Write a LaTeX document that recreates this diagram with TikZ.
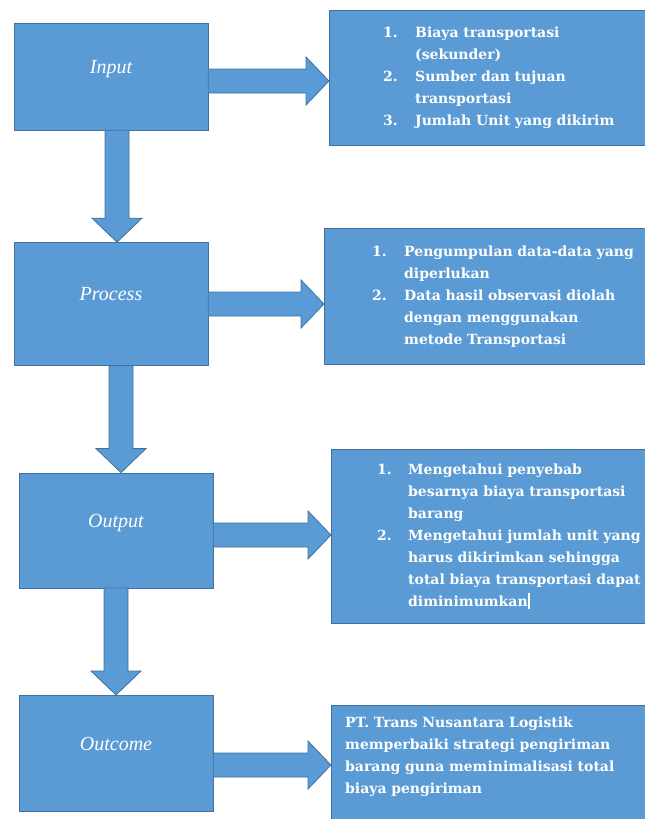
\documentclass[tikz,border=0pt]{standalone}
\usepackage{fontspec}
\setmainfont{Liberation Serif}
\newfontfamily\boxfont{DejaVu Serif}
\usetikzlibrary{shapes,arrows,positioning}
\definecolor{boxblue}{HTML}{5B9BD5}
\definecolor{edgeblue}{HTML}{41719C}

% fat arrow to the right: from, to, height of the tip
\newcommand{\sidearrow}[3]{%
	\path (#2.west |- 0,#3) coordinate (tip) ++(-23,0) coordinate (neck);
	\draw[blockarrow] (#1.east |- 0,#3-12) -- (neck |- 0,#3-12) -- (neck |- 0,#3-24) -- (tip)
		-- (neck |- 0,#3+24) -- (neck |- 0,#3+12) -- (#1.east |- 0,#3+12) -- cycle;}
% fat arrow downwards: from, to, x of the tip
\newcommand{\droparrow}[3]{%
	\path (#2.north -| #3,0) coordinate (tip) ++(0,-24) coordinate (neck);
	\draw[blockarrow] (#1.south -| #3-12,0) -- (neck -| #3-12,0) -- (neck -| #3-25,0) -- (tip)
		-- (neck -| #3+25,0) -- (neck -| #3+12,0) -- (#1.south -| #3+12,0) -- cycle;}

\begin{document}
\begin{tikzpicture}[x=1pt,y=-1pt,% one unit is one pixel, y runs down
			stage/.style={
				rectangle,draw=edgeblue,fill=boxblue,
				minimum width=194pt,
				text=white,font=\fontsize{20}{24}\selectfont\itshape,
				text height=14pt,text depth=20pt	% lifts the word above the middle
			},
			info/.style={
				rectangle,draw=edgeblue,fill=boxblue,anchor=west,
				inner sep=0pt,text width=330pt,align=left,
				text=white,font=\boxfont\bfseries\fontsize{14}{22}\selectfont
			},
			blockarrow/.style={draw=edgeblue,fill=boxblue,line width=0.8pt}
		]
		\useasboundingbox (0,0) rectangle (645,819);
		\clip (0,0) rectangle (645,819);
		% left column
		\node[stage,minimum height=107pt](L1) at (111,76.5){Input};
		\node[stage,minimum height=123pt](L2)[below=112pt of L1]{Process};
		\node[stage,minimum height=115pt,xshift=5pt](L3)[below=107pt of L2]{Output};
		\node[stage,minimum height=116pt](L4)[below=107pt of L3]{Outcome};
		% right column
		\node[info,minimum height=135pt](R1) at (329,77.5){%
			\begin{tabular}{@{\hspace*{54pt}}p{32pt}@{}l@{}}
			1. & Biaya transportasi\\
			   & (sekunder)\\
			2. & Sumber dan tujuan\\
			   & transportasi\\
			3. & Jumlah Unit yang dikirim
			\end{tabular}};
		\node[info,minimum height=136pt](R2) at (324,296){%
			\begin{tabular}{@{\hspace*{48pt}}p{32pt}@{}l@{}}
			1. & Pengumpulan data-data yang\\
			   & diperlukan\\
			2. & Data hasil observasi diolah\\
			   & dengan menggunakan\\
			   & metode Transportasi
			\end{tabular}};
		\node[info,minimum height=174pt](R3) at (331,536){%
			\begin{tabular}{@{\hspace*{46pt}}p{31pt}@{}l@{}}
			1. & Mengetahui penyebab\\
			   & besarnya biaya transportasi\\
			   & barang\\
			2. & Mengetahui jumlah unit yang\\
			   & harus dikirimkan sehingga\\
			   & total biaya transportasi dapat\\
			   & diminimumkan\rule[-3pt]{2.5pt}{16pt}
			\end{tabular}};
		\node[info,minimum height=130pt](R4) at (331,770){%
			\begin{tabular}{@{\hspace*{14pt}}l@{}}
			PT. Trans Nusantara Logistik\\
			memperbaiki strategi pengiriman\\
			barang guna meminimalisasi total\\
			biaya pengiriman
			\end{tabular}\par\vspace*{28pt}};
		% arrows
		\droparrow{L1}{L2}{117}
		\droparrow{L2}{L3}{121}
		\droparrow{L3}{L4}{116}
		\sidearrow{L1}{R1}{81}
		\sidearrow{L2}{R2}{304}
		\sidearrow{L3}{R3}{535}
		\sidearrow{L4}{R4}{765}
	\end{tikzpicture}
\end{document}
